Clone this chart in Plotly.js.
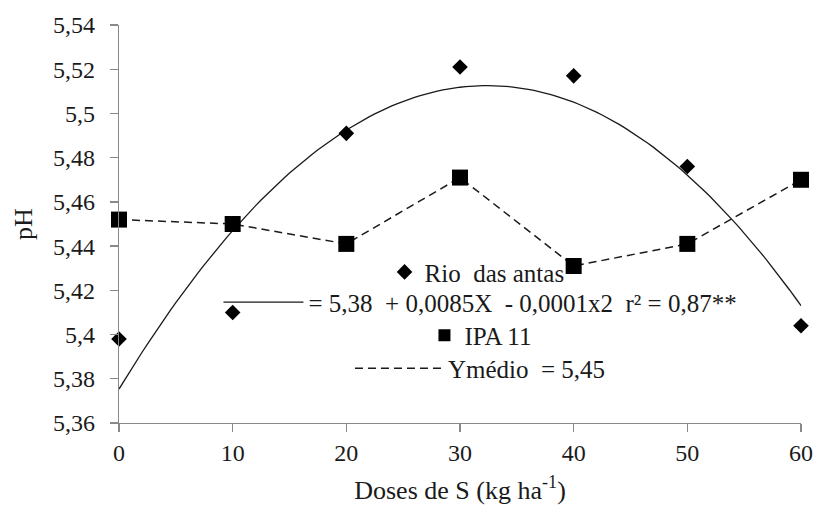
<!DOCTYPE html>
<html>
<head>
<meta charset="utf-8">
<script src="https://cdn.plot.ly/plotly-3.0.1.min.js"></script>
<style>
  html, body { margin: 0; padding: 0; background: #ffffff; }
  #chart { width: 817px; height: 505px; }
</style>
</head>
<body>
<div id="chart"></div>
<script>
// Soil pH as a function of sulphur dose, for two cultivars
const doses = [0, 10, 20, 30, 40, 50, 60];
const rioDasAntas = [5.398, 5.410, 5.491, 5.521, 5.517, 5.476, 5.404];
const ipa11 = [5.452, 5.450, 5.441, 5.471, 5.431, 5.441, 5.470];

const xTickVals = [0, 10, 20, 30, 40, 50, 60];
const yTickVals = [5.36, 5.38, 5.40, 5.42, 5.44, 5.46, 5.48, 5.50, 5.52, 5.54];
const yTickText = ['5,36', '5,38', '5,4', '5,42', '5,44', '5,46', '5,48', '5,5', '5,52', '5,54'];

const NB = '\u00a0';
const nameRio = 'Rio' + NB + NB + 'das antas';
const nameFit = '=' + NB + '5,38' + NB + NB + '+' + NB + '0,0085X' + NB + NB + '-' + NB + '0,0001x2' + NB + NB + 'r\u00b2' + NB + '=' + NB + '0,87**';
const nameIpa = 'IPA 11';
const nameMean = 'Ymédio' + NB + NB + '=' + NB + '5,45';

// Least-squares quadratic trendline through the Rio das antas points
function quadFit(xs, ys) {
  const S = [0, 0, 0, 0, 0], T = [0, 0, 0];
  xs.forEach((x, i) => {
    for (let k = 0; k < 5; k++) S[k] += Math.pow(x, k);
    for (let k = 0; k < 3; k++) T[k] += Math.pow(x, k) * ys[i];
  });
  const M = [
    [S[0], S[1], S[2], T[0]],
    [S[1], S[2], S[3], T[1]],
    [S[2], S[3], S[4], T[2]]
  ];
  for (let c = 0; c < 3; c++) {
    for (let r = c + 1; r < 3; r++) {
      const f = M[r][c] / M[c][c];
      for (let k = c; k < 4; k++) M[r][k] -= f * M[c][k];
    }
  }
  const coef = [0, 0, 0];
  for (let r = 2; r >= 0; r--) {
    let s = M[r][3];
    for (let k = r + 1; k < 3; k++) s -= M[r][k] * coef[k];
    coef[r] = s / M[r][r];
  }
  return coef;
}
const [c0, c1, c2] = quadFit(doses, rioDasAntas);
const fitX = [];
for (let x = doses[0]; x <= doses[doses.length - 1] + 1e-9; x += 0.5) fitX.push(x);
const fitY = fitX.map(x => c0 + c1 * x + c2 * x * x);

const fontName = 'Liberation Serif';
const ink = '#1a1a1a';
const axisGrey = '#898989';

const traces = [
  {
    x: fitX, y: fitY, type: 'scatter', mode: 'lines',
    name: nameFit, legend: 'legend2',
    line: { color: '#1a1a1a', width: 1.3 },
    cliponaxis: false, hoverinfo: 'skip'
  },
  {
    x: doses, y: ipa11, type: 'scatter', mode: 'lines',
    name: nameMean, legend: 'legend4',
    line: { color: '#1a1a1a', width: 1.5, dash: '8px,5px' },
    cliponaxis: false, hoverinfo: 'skip'
  },
  {
    x: doses, y: rioDasAntas, type: 'scatter', mode: 'markers',
    name: nameRio, legend: 'legend',
    marker: { symbol: 'diamond', size: 12, color: '#000000' },
    cliponaxis: false, hoverinfo: 'skip'
  },
  {
    x: doses, y: ipa11, type: 'scatter', mode: 'markers',
    name: nameIpa, legend: 'legend3',
    marker: { symbol: 'square', size: 16, color: '#000000' },
    cliponaxis: false, hoverinfo: 'skip'
  }
];

const legendBase = {
  xanchor: 'center', yanchor: 'middle',
  bgcolor: 'rgba(0,0,0,0)', borderwidth: 0,
  font: { family: fontName, size: 25, color: ink },
  tracegroupgap: 0
};

const layout = {
  width: 817, height: 505,
  margin: { l: 119, r: 16, t: 25, b: 82 },
  paper_bgcolor: '#ffffff', plot_bgcolor: '#ffffff',
  font: { family: fontName, color: ink },
  showlegend: true,
  xaxis: {
    range: [0, 60], tickvals: xTickVals,
    showgrid: false, zeroline: false,
    showline: true, linecolor: axisGrey, linewidth: 1.3,
    ticks: 'outside', ticklen: 8, tickwidth: 1.3, tickcolor: axisGrey,
    tickfont: { family: fontName, size: 24, color: ink },
    ticklabelstandoff: 0,
    title: { text: 'Doses de S (kg ha<sup>-1</sup>)', font: { family: fontName, size: 26, color: ink }, standoff: 16 },
    automargin: false
  },
  yaxis: {
    range: [5.36, 5.54], tickvals: yTickVals, ticktext: yTickText,
    showgrid: false, zeroline: false,
    showline: true, linecolor: axisGrey, linewidth: 1.3,
    ticks: 'outside', ticklen: 8, tickwidth: 1.3, tickcolor: axisGrey,
    tickfont: { family: fontName, size: 24, color: ink },
    ticklabelstandoff: 10,
    title: { text: 'pH', font: { family: fontName, size: 26, color: ink }, standoff: 12 },
    automargin: false
  },
  legend:  Object.assign({}, legendBase, { x: 0.525, y: 0.379, itemwidth: 30, itemsizing: 'constant' }),
  legend2: Object.assign({}, legendBase, { x: 0.53, y: 0.303, itemwidth: 80, itemsizing: 'trace' }),
  legend3: Object.assign({}, legendBase, { x: 0.53, y: 0.220, itemwidth: 30, itemsizing: 'constant' }),
  legend4: Object.assign({}, legendBase, { x: 0.53, y: 0.137, itemwidth: 88, itemsizing: 'trace' })
};

Plotly.newPlot('chart', traces, layout, { staticPlot: true, displayModeBar: false });
</script>
</body>
</html>
